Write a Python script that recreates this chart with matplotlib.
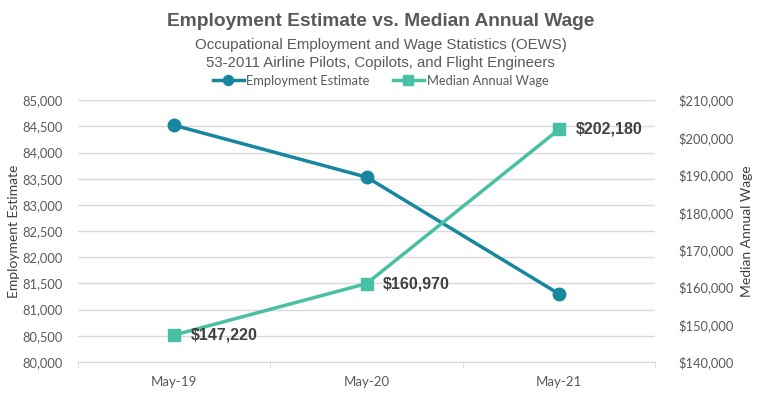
import matplotlib.pyplot as plt
from matplotlib.ticker import FuncFormatter

months = ['May-19', 'May-20', 'May-21']
employment = [84520, 83530, 81300]
wage = [147220, 160970, 202180]
wage_labels = ['$147,220', '$160,970', '$202,180']

blue = '#17879F'
green = '#47C0A3'
grid_c = '#D9D9D9'
tick_c = '#595959'

fig = plt.figure(figsize=(7.61, 3.99), dpi=100)
ax = fig.add_axes([0.1025, 0.0927, 0.7585, 0.6563])
ax2 = ax.twinx()

x = list(range(len(months)))
l1, = ax.plot(x, employment, color=blue, lw=2.5, marker='o', ms=9,
              label='Employment Estimate', zorder=3)
l2, = ax2.plot(x, wage, color=green, lw=2.5, marker='s', ms=9,
               label='Median Annual Wage', zorder=3)

for xi, w, t in zip(x, wage, wage_labels):
    ax2.annotate(t, (xi, w), xytext=(12, 0), textcoords='offset points',
                 va='center', ha='left', fontsize=11.5, fontweight='bold',
                 color='#404040', family='Liberation Sans')

ax.set_xlim(-0.5, 2.5)
ax.set_ylim(80000, 85000)
ax.set_yticks(range(80000, 85001, 500))
ax2.set_ylim(140000, 210000)
ax2.set_yticks(range(140000, 210001, 10000))
ax.yaxis.set_major_formatter(FuncFormatter(lambda v, p: f'{v:,.0f}'))
ax2.yaxis.set_major_formatter(FuncFormatter(lambda v, p: f'${v:,.0f}'))

ax.set_xticks(x)
ax.set_xticklabels(months)
ax.set_xticks([-0.5, 0.5, 1.5, 2.5], minor=True)
ax.tick_params(axis='x', which='major', length=0, pad=10)
ax.tick_params(axis='x', which='minor', length=4, color=grid_c)
ax.grid(axis='y', color=grid_c, lw=1)
ax.set_axisbelow(True)

for a in (ax, ax2):
    for s in a.spines.values():
        s.set_visible(False)
    a.tick_params(axis='y', length=0, labelcolor=tick_c, labelsize=9.3)
    for lab in a.get_yticklabels() + a.get_xticklabels():
        lab.set_family('Lato')
ax.spines['bottom'].set_visible(True)
ax.spines['bottom'].set_color(grid_c)
ax.tick_params(axis='y', pad=11)
ax2.tick_params(axis='y', pad=17)
ax.tick_params(axis='x', labelcolor=tick_c, labelsize=9.5)

ax.set_ylabel('Employment Estimate', color='#404040', fontsize=10,
              family='Lato', labelpad=2)
ax2.set_ylabel('Median Annual Wage', color='#404040', fontsize=10,
               family='Lato', labelpad=5)

fig.text(0.5, 0.935, 'Employment Estimate vs. Median Annual Wage',
         ha='center', fontsize=13.8, fontweight='bold', color='#595959',
         family='Liberation Sans')
fig.text(0.5, 0.877, 'Occupational Employment and Wage Statistics (OEWS)',
         ha='center', fontsize=10.8, color='#595959', family='Liberation Sans')
fig.text(0.5, 0.833, '53-2011 Airline Pilots, Copilots, and Flight Engineers',
         ha='center', fontsize=10.8, color='#595959', family='Liberation Sans')

leg = fig.legend(handles=[l1, l2], loc='center', bbox_to_anchor=(0.5, 0.797),
                 ncol=2, frameon=False, fontsize=9.3, handlelength=2.4,
                 columnspacing=1.8, handletextpad=0.2, markerscale=0.8)
for t in leg.get_texts():
    t.set_color('#595959')
    t.set_family('Lato')

fig.savefig('out.png', dpi=100)
